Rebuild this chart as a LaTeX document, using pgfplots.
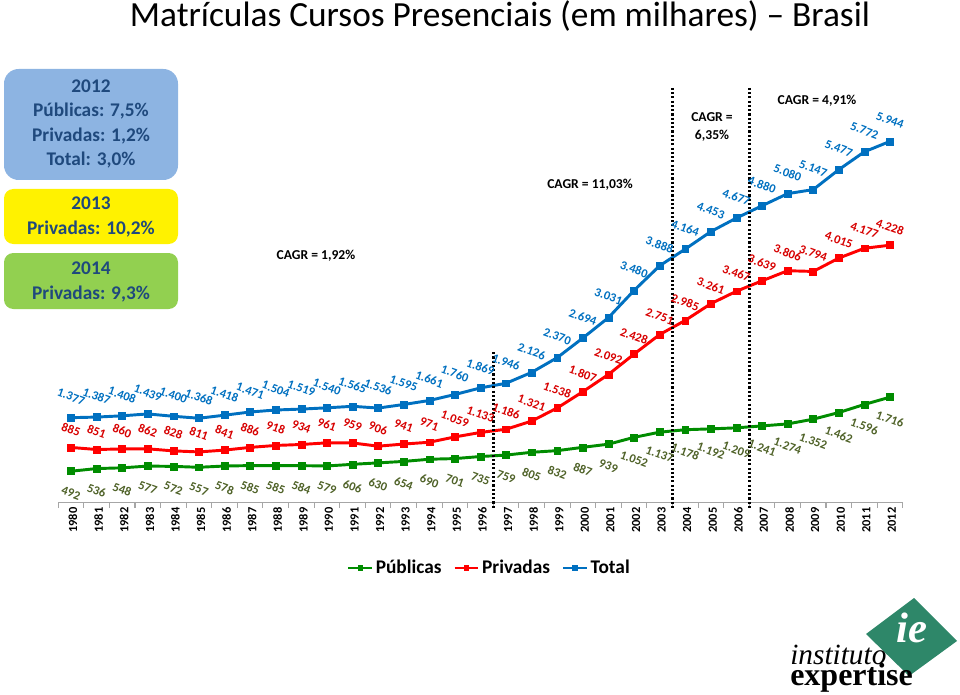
\documentclass[border=0pt]{standalone}
\usepackage{pgfplots}
\pgfplotsset{compat=1.18}
\usepackage{pgfplotstable}
\usepackage{fontspec}
\setmainfont{Carlito}
\newfontfamily\logofont{Liberation Serif}
\definecolor{cblue}{RGB}{0,112,192}
\definecolor{cred}{RGB}{255,0,0}
\definecolor{cgreen}{RGB}{0,140,0}
\definecolor{olivelab}{RGB}{79,98,40}
\definecolor{redlab}{RGB}{215,0,0}
\definecolor{boxblue}{RGB}{141,180,226}
\definecolor{boxtext}{RGB}{31,73,125}
\definecolor{boxgreen}{RGB}{146,208,80}
\definecolor{logogreen}{RGB}{46,135,105}

\pgfplotstableread{
year pub priv tot
1980 492 885 1377
1981 536 851 1387
1982 548 860 1408
1983 577 862 1439
1984 572 828 1400
1985 557 811 1368
1986 578 841 1418
1987 585 886 1471
1988 585 918 1504
1989 584 934 1519
1990 579 961 1540
1991 606 959 1565
1992 630 906 1536
1993 654 941 1595
1994 690 971 1661
1995 701 1059 1760
1996 735 1133 1869
1997 759 1186 1946
1998 805 1321 2126
1999 832 1538 2370
2000 887 1807 2694
2001 939 2092 3031
2002 1052 2428 3480
2003 1137 2751 3888
2004 1178 2985 4164
2005 1192 3261 4453
2006 1209 3467 4677
2007 1241 3639 4880
2008 1274 3806 5080
2009 1352 3794 5147
2010 1462 4015 5477
2011 1596 4177 5772
2012 1716 4228 5944
}\data

\begin{document}
\begin{tikzpicture}
\path[use as bounding box] (0,0) rectangle (720pt,520.5pt);
\begin{axis}[
  at={(43.65pt,143.4pt)}, anchor=south west,
  scale only axis, width=633.45pt, height=332.6pt,
  xmin=1979.5, xmax=2012.5, ymin=-30, ymax=7300,
  axis y line=none, axis x line*=bottom,
  x axis line style={draw=gray!70, -, line width=0.8pt},
  xtick={1980,...,2012}, major tick length=0pt,
  minor xtick={1979.5,1980.5,...,2012.5}, minor tick length=4pt,
  tick align=outside,
  minor tick style={gray!70, line width=0.8pt},
  xticklabel style={rotate=90, anchor=east, yshift=-1.5pt, font=\bfseries\fontsize{9.3}{9}\selectfont, /pgf/number format/1000 sep=, /pgf/number format/assume math mode=true},
  clip=false,
  legend style={at={(0.511,-0.147)}, anchor=center, draw=none, fill=none,
    legend columns=3, font=\bfseries\fontsize{14.5}{16}\selectfont,
    /tikz/every even column/.append style={column sep=7pt}},
  legend image code/.code={%
    \draw[#1, line width=1.8pt] (0cm,0cm) -- (0.62cm,0cm);
    \draw[#1, mark size=1.7pt, mark repeat=1] plot coordinates {(0.31cm,0cm)};},
  nodes near coords={\pgfmathprintnumber[1000 sep={.}, assume math mode=true]{\pgfplotspointmeta}},
]
\addplot[cgreen, line width=2.2pt, mark=square*, mark size=2.6pt, mark options={solid, line width=0.4pt},
  every node near coord/.append style={font=\bfseries\fontsize{9.3}{10}\selectfont, text=olivelab, yshift=-16.5pt, rotate=-20, anchor=center}]
  table[x=year, y=pub] {\data};
\addlegendentry{Públicas}
\addplot[cred, line width=2.2pt, mark=square*, mark size=2.6pt, mark options={solid, line width=0.4pt},
  every node near coord/.append style={font=\bfseries\fontsize{9.3}{10}\selectfont, text=redlab, yshift=13.5pt, rotate=-20, anchor=center}]
  table[x=year, y=priv] {\data};
\addlegendentry{Privadas}
\addplot[cblue, line width=2.2pt, mark=square*, mark size=2.6pt, mark options={solid, line width=0.4pt},
  every node near coord/.append style={font=\bfseries\fontsize{9.3}{10}\selectfont, text=cblue, yshift=15.75pt, rotate=-20, anchor=center}]
  table[x=year, y=tot] {\data};
\addlegendentry{Total}
\draw[black, line width=2.2pt, dash pattern=on 1.6pt off 1.6pt] (axis cs:1996.5,2460) -- (axis cs:1996.5,-110);
\draw[black, line width=2.2pt, dash pattern=on 1.6pt off 1.6pt] (axis cs:2003.5,6830) -- (axis cs:2003.5,-110);
\draw[black, line width=2.2pt, dash pattern=on 1.6pt off 1.6pt] (axis cs:2006.5,6830) -- (axis cs:2006.5,-110);
\end{axis}
\begin{scope}[x=0.75pt, y=-0.75pt, shift={(0pt,520.5pt)}]
  % title
  \node[font=\fontsize{26.5}{28}\selectfont] at (500,16) {Matrículas Cursos Presenciais (em milhares) -- Brasil};
  % CAGR labels
  \begin{scope}[every node/.style={font=\bfseries\fontsize{10.2}{13}\selectfont, text=black, align=center}]
    \node at (316,256) {CAGR = 1,92\%};
    \node at (590,185) {CAGR = 11,03\%};
    \node at (712,127) {CAGR =\\6,35\%};
    \node at (817,101) {CAGR = 4,91\%};
  \end{scope}
  % boxes
  \fill[boxblue, rounded corners=11pt] (4,69) rectangle (178,180);
  \fill[yellow, rounded corners=7pt] (4,189) rectangle (178,244);
  \fill[boxgreen, rounded corners=7pt] (4,253) rectangle (178,309);
  \begin{scope}[every node/.style={font=\bfseries\fontsize{14.5}{18.2}\selectfont, text=boxtext, align=center}]
    \node at (91,124) {2012\\Públicas: 7,5\%\\Privadas: 1,2\%\\Total: 3,0\%};
    \node at (91,217) {2013\\Privadas: 10,2\%};
    \node at (91,282) {2014\\Privadas: 9,3\%};
  \end{scope}
  % logo
  \fill[logogreen] (866,634) -- (914,598) -- (957,641) -- (909,676) -- cycle;
  \node[inner sep=0pt, text=white, font=\logofont\bfseries\itshape\fontsize{32}{32}\selectfont] at (912,628) {ie};
  \node[inner sep=0pt, anchor=base west, font=\logofont\itshape\fontsize{22}{22}\selectfont] at (790,664) {instituto};
  \node[inner sep=0pt, anchor=base west, font=\logofont\bfseries\fontsize{24}{24}\selectfont] at (790,685) {expertise};
\end{scope}
\end{tikzpicture}
\end{document}
